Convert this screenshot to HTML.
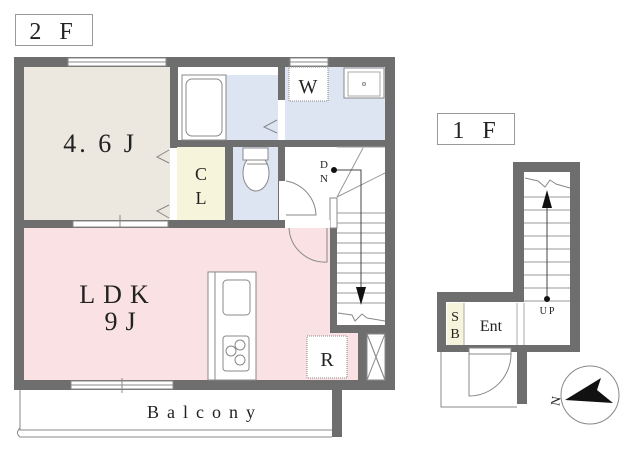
<!DOCTYPE html>
<html><head><meta charset="utf-8"><style>
html,body{margin:0;padding:0;background:#fff;width:640px;height:450px;overflow:hidden}
text{font-family:"Liberation Serif","Noto Serif CJK SC",serif;fill:#222}
</style></head><body>
<svg width="640" height="450" viewBox="0 0 640 450" xmlns="http://www.w3.org/2000/svg">
<!-- labels -->
<rect x="15.5" y="14.5" width="77" height="31" fill="#fff" stroke="#999"/>
<text x="54" y="39" font-size="24" text-anchor="middle" letter-spacing="6">2 F</text>
<rect x="437.5" y="113.5" width="77" height="31" fill="#fff" stroke="#999"/>
<text x="477" y="138" font-size="24" text-anchor="middle" letter-spacing="6">1 F</text>

<!-- 2F walls -->
<rect x="14" y="57" width="381" height="333" fill="#6e6e6e"/>
<!-- 4.6J -->
<rect x="24" y="67" width="146" height="153" fill="#ede8df"/>
<!-- LDK -->
<rect x="24" y="228" width="306" height="152" fill="#fae1e3"/>
<rect x="330" y="333" width="28" height="47" fill="#fae1e3"/>
<!-- bath -->
<rect x="178" y="67" width="100" height="73" fill="#fff"/>
<rect x="182" y="75" width="96" height="65" fill="#dde5f3"/>
<rect x="182" y="75" width="44" height="65" fill="#fff" stroke="#888"/>
<rect x="186" y="79" width="36" height="57" rx="6" fill="#fff" stroke="#888"/>
<!-- washroom -->
<rect x="285" y="67" width="100" height="73" fill="#dde5f3"/>
<rect x="289" y="67" width="39" height="34" fill="#fff" stroke="#888" stroke-dasharray="1,1"/>
<text x="308" y="93" font-size="20" text-anchor="middle">W</text>
<rect x="344" y="68" width="40" height="30" fill="#fff" stroke="#888"/>
<rect x="348" y="72" width="32" height="24" fill="#fff" stroke="#aaa"/>
<circle cx="364" cy="84" r="1.5" fill="none" stroke="#888"/>
<rect x="278" y="100" width="7" height="40" fill="#fff"/>
<polyline points="277,120 264,127 277,133" fill="none" stroke="#888"/>
<!-- CL -->
<rect x="177" y="147" width="48" height="73" fill="#f7f4dc"/>
<rect x="170" y="148" width="7" height="72" fill="#fff"/>
<polyline points="169,150 157,157 169,163" fill="none" stroke="#888"/>
<polyline points="169,205 157,211 169,218" fill="none" stroke="#888"/>
<text x="201" y="180" font-size="18" text-anchor="middle">C</text>
<text x="201" y="204" font-size="18" text-anchor="middle">L</text>
<!-- toilet -->
<rect x="233" y="147" width="45" height="73" fill="#dde5f3"/>
<rect x="243" y="148" width="25" height="12" fill="#fff" stroke="#888"/>
<ellipse cx="256" cy="173" rx="13" ry="18" fill="#fff" stroke="#888"/>
<rect x="243" y="148" width="25" height="12" fill="#fff" stroke="#888"/>
<line x1="247" y1="164" x2="268" y2="164" stroke="#888"/>
<!-- hall -->
<rect x="285" y="147" width="100" height="73" fill="#fff"/>
<rect x="279" y="181" width="7" height="39" fill="#fff"/>
<path d="M286,181 A36,36 0 0 1 316,215 L286,215" fill="none" stroke="#888"/>
<!-- stairs -->
<rect x="337" y="147" width="48" height="178" fill="#fff"/>
<rect x="330" y="198" width="7" height="30" fill="#fff" stroke="#888"/>
<rect x="285" y="220" width="45" height="8" fill="#fff"/>
<g stroke="#999" stroke-width="1">
<line x1="337" y1="147" x2="385" y2="147"/>
<line x1="337" y1="197" x2="363" y2="148"/>
<line x1="337" y1="197" x2="385" y2="173"/>
<line x1="337" y1="213" x2="385" y2="213"/>
<line x1="337" y1="223" x2="385" y2="223"/>
<line x1="337" y1="233" x2="385" y2="233"/>
<line x1="337" y1="243" x2="385" y2="243"/>
<line x1="337" y1="253" x2="385" y2="253"/>
<line x1="337" y1="263" x2="385" y2="263"/>
<line x1="337" y1="273" x2="385" y2="273"/>
<line x1="337" y1="283" x2="385" y2="283"/>
<line x1="337" y1="293" x2="385" y2="293"/>
<line x1="337" y1="303" x2="385" y2="303"/>
</g>
<rect x="337" y="307" width="48" height="18" fill="#fff"/>
<polyline points="338,313 352,315 355,321 362,314 367,318 385,321" fill="none" stroke="#888"/>
<polyline points="334,170 361,170 361,295" fill="none" stroke="#444"/>
<circle cx="334" cy="170" r="3" fill="#111"/>
<polygon points="356,287 366,287 361,305" fill="#111"/>
<text x="324" y="168" font-size="11" text-anchor="middle">D</text>
<text x="324" y="182" font-size="11" text-anchor="middle">N</text>
<path d="M289,228 A36,36 0 0 0 327,262 L327,228" fill="none" stroke="#888"/>
<!-- closet X -->
<rect x="367" y="334" width="18" height="46" fill="#fff" stroke="#888"/>
<polyline points="367,334 385,380 M385,334 367,380" fill="none" stroke="#888"/>
<line x1="367" y1="334" x2="385" y2="380" stroke="#888"/>
<line x1="385" y1="334" x2="367" y2="380" stroke="#888"/>
<!-- R -->
<rect x="307" y="336" width="40" height="42" fill="#fff" stroke="#888" stroke-dasharray="1,1"/>
<text x="327" y="366" font-size="20" text-anchor="middle">R</text>
<!-- kitchen -->
<rect x="208" y="272" width="48" height="108" fill="#fff" stroke="#888"/>
<line x1="215" y1="272" x2="215" y2="380" stroke="#888"/>
<rect x="223" y="280" width="27" height="35" rx="4" fill="#fff" stroke="#888"/>
<rect x="223" y="336" width="26" height="35" rx="3" fill="#fff" stroke="#888"/>
<circle cx="231" cy="351" r="5" fill="none" stroke="#888"/>
<circle cx="240" cy="345" r="5" fill="none" stroke="#888"/>
<circle cx="240" cy="360" r="5" fill="none" stroke="#888"/>
<text x="118" y="303" font-size="26" text-anchor="middle" letter-spacing="8">LDK</text>
<text x="124" y="330" font-size="26" text-anchor="middle" letter-spacing="8">9J</text>
<text x="100" y="152" font-size="26" text-anchor="middle" letter-spacing="3">4. 6 J</text>
<!-- windows -->
<g fill="#fff" stroke="#888">
<rect x="68" y="58" width="98" height="8"/>
<rect x="290" y="58" width="38" height="8"/>
<rect x="73" y="221" width="95" height="6"/>
<rect x="71" y="381" width="102" height="8"/>
</g>
<line x1="68" y1="62" x2="166" y2="62" stroke="#888"/>
<line x1="290" y1="62" x2="328" y2="62" stroke="#888"/>
<line x1="71" y1="385" x2="173" y2="385" stroke="#888"/>
<line x1="120" y1="215" x2="120" y2="228" stroke="#888"/>
<line x1="122" y1="378" x2="122" y2="393" stroke="#888"/>
<!-- balcony -->
<rect x="332" y="390" width="10" height="47" fill="#6e6e6e"/>
<polyline points="20,390 20,430 332,430" fill="none" stroke="#888"/>
<path d="M332,437 L20,437 Q15,433 20,428" fill="none" stroke="#888"/>
<text x="205" y="418" font-size="18" text-anchor="middle" letter-spacing="8">Balcony</text>

<!-- 1F -->
<rect x="513" y="162" width="67" height="190" fill="#6e6e6e"/>
<rect x="437" y="292" width="143" height="60" fill="#6e6e6e"/>
<rect x="524" y="172" width="46" height="173" fill="#fff"/>
<rect x="446" y="302" width="124" height="43" fill="#fff"/>
<rect x="447" y="303" width="17" height="42" fill="#f7f4dc"/>
<line x1="464" y1="303" x2="464" y2="345" stroke="#aaa"/>
<line x1="517" y1="303" x2="517" y2="345" stroke="#aaa"/>
<line x1="524" y1="303" x2="524" y2="345" stroke="#aaa"/>
<g stroke="#999">
<line x1="524" y1="197" x2="570" y2="197"/><line x1="524" y1="210" x2="570" y2="210"/>
<line x1="524" y1="223" x2="570" y2="223"/><line x1="524" y1="236" x2="570" y2="236"/>
<line x1="524" y1="249" x2="570" y2="249"/><line x1="524" y1="262" x2="570" y2="262"/>
<line x1="524" y1="275" x2="570" y2="275"/><line x1="524" y1="288" x2="570" y2="288"/>
<line x1="524" y1="301" x2="570" y2="301"/>
</g>
<polyline points="525,178 538,181 545,187 550,180 556,184 570,188" fill="none" stroke="#888"/>
<line x1="547" y1="205" x2="547" y2="300" stroke="#444"/>
<circle cx="547" cy="299" r="3" fill="#111"/>
<polygon points="542,208 552,208 547,190" fill="#111"/>
<text x="548" y="314" font-size="10" text-anchor="middle" letter-spacing="2">UP</text>
<text x="455" y="321" font-size="14" text-anchor="middle">S</text>
<text x="455" y="338" font-size="14" text-anchor="middle">B</text>
<text x="491" y="331" font-size="16" text-anchor="middle">Ent</text>
<rect x="517" y="352" width="10" height="52" fill="#6e6e6e"/>
<polyline points="441,352 441,407 517,407" fill="none" stroke="#888"/>
<rect x="469" y="348" width="42" height="6" fill="#fff" stroke="#888"/>
<path d="M469,354 L469,396 A42,42 0 0 0 511,354" fill="none" stroke="#888"/>
<!-- compass -->
<circle cx="590" cy="395" r="29" fill="#fff" stroke="#888"/>
<polygon points="565,400 601,378 597,390 613,403" fill="#111"/>
<text x="556" y="405" font-size="13" transform="rotate(-80 556 401)" text-anchor="middle">N</text>
</svg>
</body></html>
